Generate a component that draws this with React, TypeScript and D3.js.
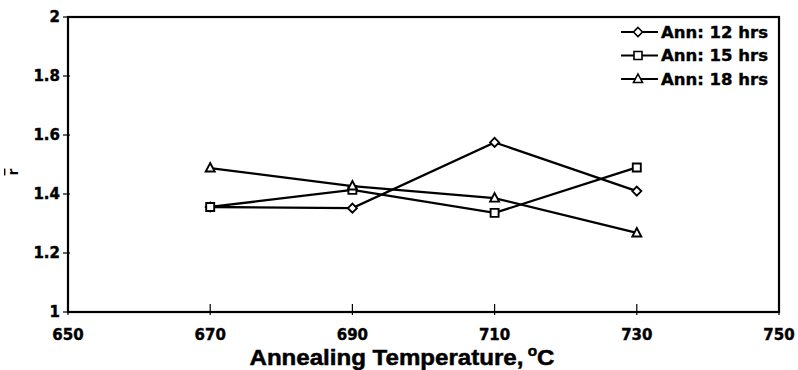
import { scaleLinear, line } from "d3";

const temps = [670, 690, 710, 730];
const ann12 = [1.356, 1.352, 1.575, 1.41];
const ann15 = [1.356, 1.414, 1.336, 1.49];
const ann18 = [1.488, 1.427, 1.386, 1.268];
const seriesNames = ["Ann: 12 hrs", "Ann: 15 hrs", "Ann: 18 hrs"];
const xTicks = [650, 670, 690, 710, 730, 750];
const yTicks = [1, 1.2, 1.4, 1.6, 1.8, 2];

const W = 798;
const H = 370;
const m = { left: 68, right: 779, top: 17, bottom: 312 };
const font = "'DejaVu Sans', sans-serif";

// marker outlines, centred at 0,0
const shapes = [
  "M0,-4.5L4.5,0L0,4.5L-4.5,0Z",
  "M-4,-4H4V4H-4Z",
  "M0,-5L4.5,3.5H-4.5Z",
];

export default function App() {
  const x = scaleLinear().domain([650, 750]).range([m.left, m.right]);
  const y = scaleLinear().domain([1, 2]).range([m.bottom, m.top]);
  const l = line<[number, number]>()
    .x((d) => x(d[0]))
    .y((d) => y(d[1]));

  const series = [ann12, ann15, ann18];

  return (
    <svg
      width={W}
      height={H}
      style={{ position: "absolute", left: 0, top: 0, background: "#fff" }}
      fontFamily={font}
    >
      {/* frame */}
      <rect
        x={m.left}
        y={m.top}
        width={m.right - m.left}
        height={m.bottom - m.top}
        fill="none"
        stroke="#000"
        strokeWidth={2.2}
      />
      {/* y ticks */}
      {yTicks.map((t) => (
        <g key={t}>
          <line x1={m.left - 5} x2={m.left + 2} y1={y(t)} y2={y(t)} stroke="#000" strokeWidth={1.2} />
          <text x={m.left - 8} y={y(t)} dy="0.36em" textAnchor="end" fontSize={15} fontWeight="bold" stroke="#000" strokeWidth={0.4}>
            {t}
          </text>
        </g>
      ))}
      {/* x ticks */}
      {xTicks.map((t) => (
        <g key={t}>
          <line x1={x(t)} x2={x(t)} y1={m.bottom - 8} y2={m.bottom + 3} stroke="#000" strokeWidth={1.2} />
          <text x={x(t)} y={m.bottom + 28} textAnchor="middle" fontSize={15} fontWeight="bold" stroke="#000" strokeWidth={0.4}>
            {t}
          </text>
        </g>
      ))}
      {/* axis titles */}
      <text
        x={402}
        y={365}
        textAnchor="middle"
        fontSize={22}
        fontWeight="bold"
        fontFamily="'Liberation Sans', Arial, sans-serif"
        stroke="#000"
        strokeWidth={0.5}
        textLength={305}
        lengthAdjust="spacingAndGlyphs"
      >
        Annealing Temperature,
        <tspan fontSize={14} dx={4} dy={-9}>o</tspan>
        <tspan dy={9}>C</tspan>
      </text>
      <text
        transform="translate(18,172) rotate(-90)"
        textAnchor="middle"
        fontSize={14}
        fontWeight="bold"
        style={{ textDecoration: "overline" }}
      >
        r
      </text>
      {/* series */}
      {series.map((vals, i) => {
        const pts = temps.map((t, j) => [t, vals[j]] as [number, number]);
        return (
          <g key={i}>
            <path d={l(pts) || ""} fill="none" stroke="#000" strokeWidth={2.3} />
            {pts.map((p, j) => (
              <path
                key={j}
                d={shapes[i]}
                transform={`translate(${x(p[0])},${y(p[1])})`}
                fill="#fff"
                stroke="#000"
                strokeWidth={1.9}
              />
            ))}
          </g>
        );
      })}
      {/* legend */}
      {seriesNames.map((name, i) => {
        const ly = 32 + i * 23.5;
        return (
          <g key={name}>
            <line x1={621} x2={658} y1={ly} y2={ly} stroke="#000" strokeWidth={2} />
            <path d={shapes[i]} transform={`translate(638,${ly})`} fill="#fff" stroke="#000" strokeWidth={1.6} />
            <text x={661} y={ly} dy="0.36em" fontSize={16.5} fontWeight="bold" stroke="#000" strokeWidth={0.4}>
              {name}
            </text>
          </g>
        );
      })}
    </svg>
  );
}
